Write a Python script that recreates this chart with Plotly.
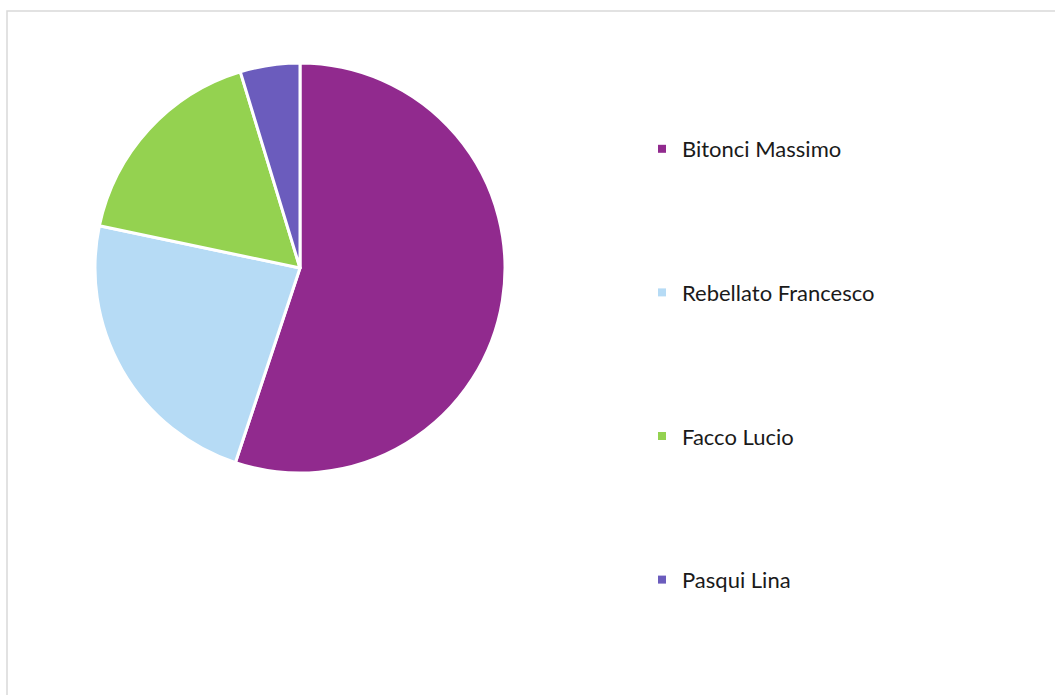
import plotly.graph_objects as go

# Vote shares per candidate
candidates = ["Bitonci Massimo", "Rebellato Francesco", "Facco Lucio", "Pasqui Lina"]
shares = [55.1, 23.2, 17.0, 4.7]
colors = ["#912A8E", "#B6DBF5", "#94D250", "#6B5CBD"]

W, H = 1055, 695
fig = go.Figure()

# Pie, starting at 12 o'clock and running clockwise
cx, cy, r = 300, 268, 205
fig.add_trace(go.Pie(
    labels=candidates,
    values=shares,
    sort=False,
    direction="clockwise",
    rotation=0,
    marker=dict(colors=colors, line=dict(color="white", width=3)),
    textinfo="none",
    hoverinfo="label+percent",
    showlegend=False,
    domain=dict(x=[(cx - r) / W, (cx + r) / W], y=[1 - (cy + r) / H, 1 - (cy - r) / H]),
))

# Legend entries, one group per candidate so they can be spaced out
for name, col in zip(candidates, colors):
    fig.add_trace(go.Scatter(
        x=[None], y=[None], mode="markers", name=name, legendgroup=name,
        marker=dict(symbol="square", size=8, color=col),
    ))

fig.update_layout(
    width=W, height=H,
    margin=dict(l=0, r=0, t=0, b=0),
    paper_bgcolor="white", plot_bgcolor="white",
    xaxis=dict(visible=False), yaxis=dict(visible=False),
    font=dict(family="Lato", size=22, color="#1a1a1a"),
    legend=dict(
        x=642 / W, xanchor="left",
        y=1 - 128 / H, yanchor="top",
        tracegroupgap=112,
        bgcolor="rgba(0,0,0,0)",
    ),
    shapes=[dict(
        type="rect", xref="paper", yref="paper",
        x0=7 / W, x1=1.02, y0=-0.02, y1=1 - 11 / H,
        line=dict(color="#D9D9D9", width=1.5),
    )],
)

fig.write_html("out.html")
